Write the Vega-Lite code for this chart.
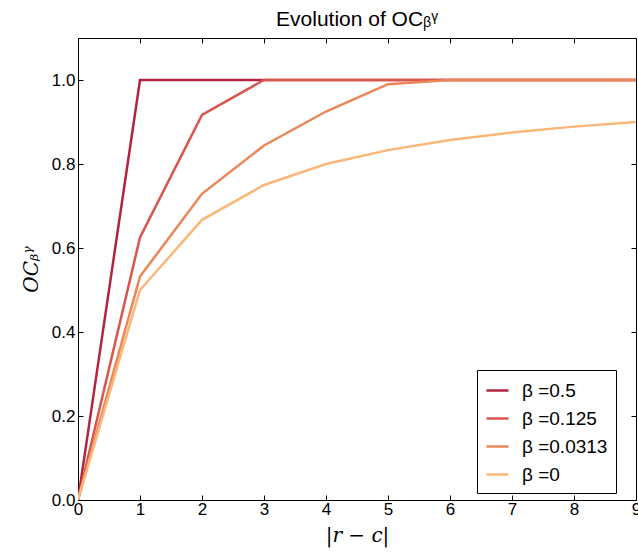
{
  "$schema": "https://vega.github.io/schema/vega-lite/v6.json",
  "autosize": "none",
  "width": 558,
  "height": 462,
  "padding": {"left": 78, "top": 38, "right": 2, "bottom": 59},
  "background": "white",
  "title": {
    "text": "Evolution of OCᵦᵞ",
    "font": "Liberation Sans",
    "fontSize": 21,
    "fontWeight": "normal",
    "color": "black",
    "anchor": "middle",
    "offset": 8
  },
  "config": {
    "view": {"stroke": "black", "strokeWidth": 1},
    "axis": {
      "labelFont": "Liberation Sans",
      "labelFontSize": 17,
      "labelColor": "black",
      "labelFlush": false,
      "domain": false,
      "grid": false,
      "tickColor": "black",
      "tickSize": -5,
      "tickWidth": 1
    },
    "legend": {
      "labelFont": "Liberation Sans",
      "labelFontSize": 19,
      "labelColor": "black"
    }
  },
  "data": {
    "values": [
      {"x": 0, "y": 0, "s": "β =0.5"},
      {"x": 1, "y": 1, "s": "β =0.5"},
      {"x": 2, "y": 1, "s": "β =0.5"},
      {"x": 3, "y": 1, "s": "β =0.5"},
      {"x": 4, "y": 1, "s": "β =0.5"},
      {"x": 5, "y": 1, "s": "β =0.5"},
      {"x": 6, "y": 1, "s": "β =0.5"},
      {"x": 7, "y": 1, "s": "β =0.5"},
      {"x": 8, "y": 1, "s": "β =0.5"},
      {"x": 9, "y": 1, "s": "β =0.5"},
      {"x": 0, "y": 0, "s": "β =0.125"},
      {"x": 1, "y": 0.625, "s": "β =0.125"},
      {"x": 2, "y": 0.917, "s": "β =0.125"},
      {"x": 3, "y": 1, "s": "β =0.125"},
      {"x": 4, "y": 1, "s": "β =0.125"},
      {"x": 5, "y": 1, "s": "β =0.125"},
      {"x": 6, "y": 1, "s": "β =0.125"},
      {"x": 7, "y": 1, "s": "β =0.125"},
      {"x": 8, "y": 1, "s": "β =0.125"},
      {"x": 9, "y": 1, "s": "β =0.125"},
      {"x": 0, "y": 0, "s": "β =0.0313"},
      {"x": 1, "y": 0.532, "s": "β =0.0313"},
      {"x": 2, "y": 0.729, "s": "β =0.0313"},
      {"x": 3, "y": 0.844, "s": "β =0.0313"},
      {"x": 4, "y": 0.925, "s": "β =0.0313"},
      {"x": 5, "y": 0.99, "s": "β =0.0313"},
      {"x": 6, "y": 1, "s": "β =0.0313"},
      {"x": 7, "y": 1, "s": "β =0.0313"},
      {"x": 8, "y": 1, "s": "β =0.0313"},
      {"x": 9, "y": 1, "s": "β =0.0313"},
      {"x": 0, "y": 0, "s": "β =0"},
      {"x": 1, "y": 0.5, "s": "β =0"},
      {"x": 2, "y": 0.667, "s": "β =0"},
      {"x": 3, "y": 0.75, "s": "β =0"},
      {"x": 4, "y": 0.8, "s": "β =0"},
      {"x": 5, "y": 0.833, "s": "β =0"},
      {"x": 6, "y": 0.857, "s": "β =0"},
      {"x": 7, "y": 0.875, "s": "β =0"},
      {"x": 8, "y": 0.889, "s": "β =0"},
      {"x": 9, "y": 0.9, "s": "β =0"}
    ]
  },
  "layer": [
    {
      "mark": {"type": "line", "strokeWidth": 2.5, "clip": true},
      "encoding": {
        "x": {
          "field": "x", "type": "quantitative",
          "scale": {"domain": [0, 9], "nice": false, "zero": false},
          "axis": {
            "values": [0, 1, 2, 3, 4, 5, 6, 7, 8, 9],
            "labelPadding": 6,
            "title": "|r − c|",
            "titleFont": "DejaVu Serif",
            "titleFontStyle": "italic",
            "titleFontWeight": "normal",
            "titleFontSize": 20,
            "titleColor": "black",
            "titlePadding": 8
          }
        },
        "y": {
          "field": "y", "type": "quantitative",
          "scale": {"domain": [0, 1.1], "nice": false},
          "axis": {
            "values": [0, 0.2, 0.4, 0.6, 0.8, 1.0],
            "format": ".1f",
            "labelPadding": 8,
            "title": "OCᵦᵞ",
            "titleFont": "DejaVu Serif",
            "titleFontStyle": "italic",
            "titleFontWeight": "normal",
            "titleFontSize": 20,
            "titleColor": "black",
            "titlePadding": 10
          }
        },
        "color": {
          "field": "s", "type": "nominal",
          "scale": {
            "domain": ["β =0.5", "β =0.125", "β =0.0313", "β =0"],
            "range": ["#b22442", "#d8564c", "#ec8558", "#fab777"]
          },
          "legend": {
            "title": null,
            "orient": "none",
            "legendX": 399,
            "legendY": 332,
            "symbolType": "stroke",
            "symbolStrokeWidth": 2.5,
            "symbolSize": 484,
            "rowPadding": 5,
            "labelOffset": 12,
            "strokeColor": "black",
            "fillColor": "white",
            "padding": 8
          }
        }
      }
    },
    {
      "mark": {"type": "line", "opacity": 0},
      "encoding": {
        "x": {
          "field": "x", "type": "quantitative",
          "axis": {"orient": "top", "values": [0, 1, 2, 3, 4, 5, 6, 7, 8, 9], "labels": false, "title": null}
        },
        "y": {
          "field": "y", "type": "quantitative",
          "axis": {"orient": "right", "values": [0, 0.2, 0.4, 0.6, 0.8, 1.0], "labels": false, "title": null}
        }
      }
    }
  ],
  "resolve": {"axis": {"x": "independent", "y": "independent"}}
}
